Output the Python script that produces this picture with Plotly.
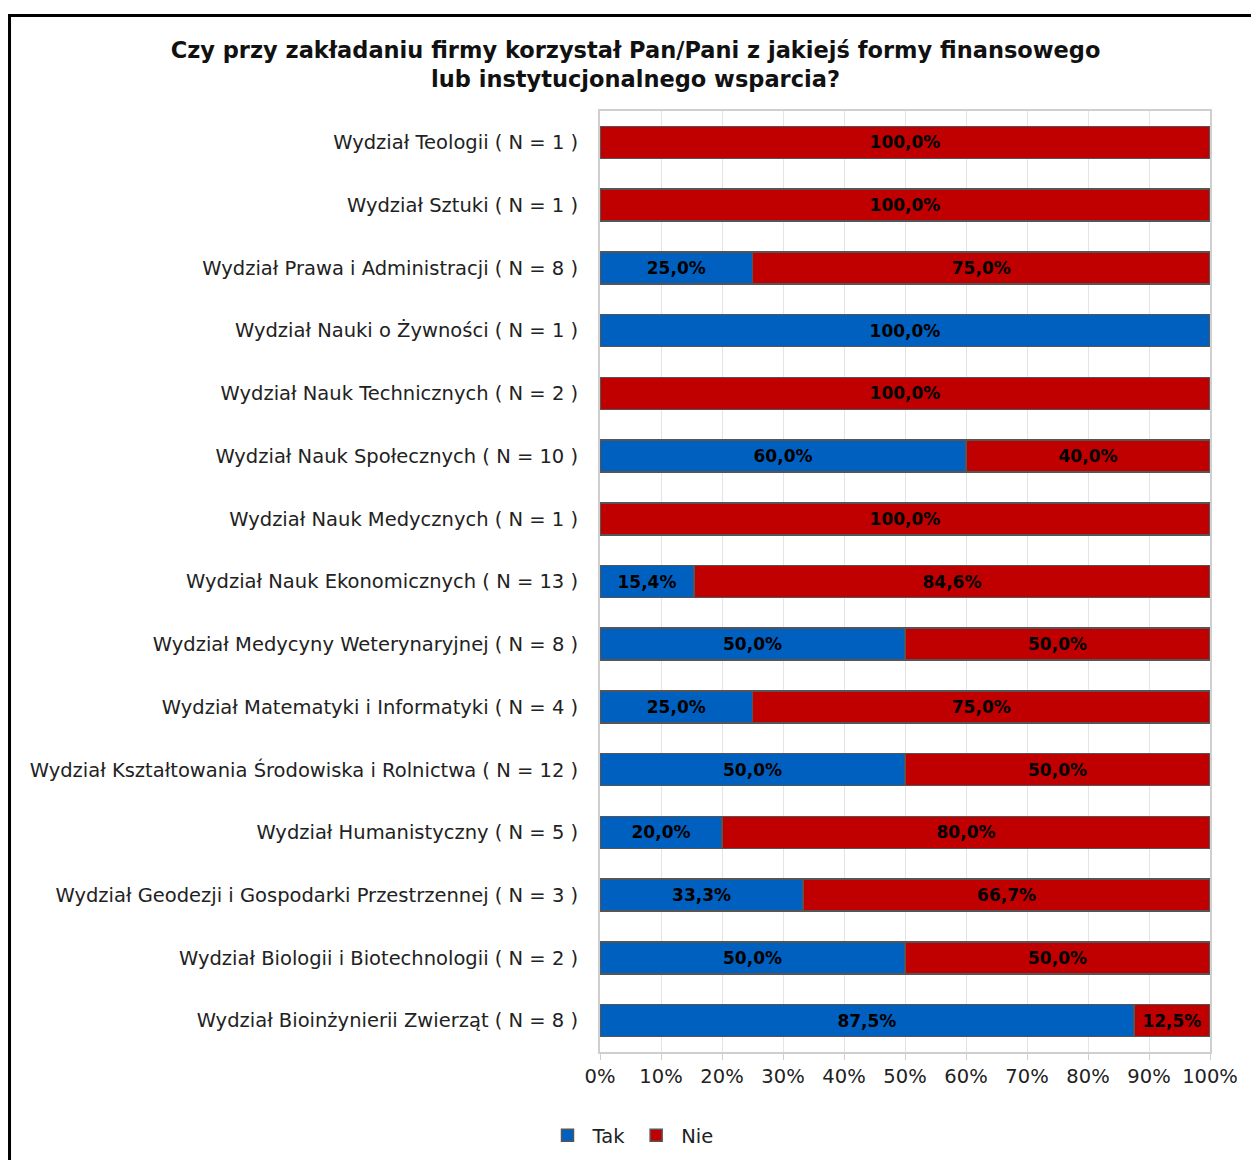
import plotly.graph_objects as go

TITLE = ("Czy przy zakładaniu firmy korzystał Pan/Pani z jakiejś formy finansowego"
         "<br>lub instytucjonalnego wsparcia?")

# top to bottom, as in the picture
faculties = [
    "Wydział Teologii ( N = 1 )",
    "Wydział Sztuki ( N = 1 )",
    "Wydział Prawa i Administracji ( N = 8 )",
    "Wydział Nauki o Żywności ( N = 1 )",
    "Wydział Nauk Technicznych ( N = 2 )",
    "Wydział Nauk Społecznych ( N = 10 )",
    "Wydział Nauk Medycznych ( N = 1 )",
    "Wydział Nauk Ekonomicznych ( N = 13 )",
    "Wydział Medycyny Weterynaryjnej ( N = 8 )",
    "Wydział Matematyki i Informatyki ( N = 4 )",
    "Wydział Kształtowania Środowiska i Rolnictwa ( N = 12 )",
    "Wydział Humanistyczny ( N = 5 )",
    "Wydział Geodezji i Gospodarki Przestrzennej ( N = 3 )",
    "Wydział Biologii i Biotechnologii ( N = 2 )",
    "Wydział Bioinżynierii Zwierząt ( N = 8 )",
]
tak = [0, 0, 25, 100, 0, 60, 0, 15.4, 50, 25, 50, 20, 33.3, 50, 87.5]
nie = [100, 100, 75, 0, 100, 40, 100, 84.6, 50, 75, 50, 80, 66.7, 50, 12.5]

tick_vals = [0, 10, 20, 30, 40, 50, 60, 70, 80, 90, 100]
tick_text = [f"{v}%" for v in tick_vals]

BLUE = "#0060c0"
RED = "#c00000"
OUTLINE = "#555555"
FONT = "DejaVu Sans"


def pct(v):
    return f"{v:.1f}".replace(".", ",") + "%" if v > 0 else ""


fig = go.Figure()
for name, values, color in [("Tak", tak, BLUE), ("Nie", nie, RED)]:
    fig.add_trace(go.Bar(
        y=faculties, x=values, name=name, orientation="h",
        marker={"color": color, "line": {"color": OUTLINE, "width": 1.5}},
        text=[pct(v) for v in values],
        textposition="inside", insidetextanchor="middle",
        textangle=0, constraintext="none",
        textfont={"family": FONT, "size": 17, "color": "#000000", "weight": "bold"},
        hovertemplate="%{y} · %{x:.1f} %<extra>" + name + "</extra>",
    ))

fig.update_layout(
    width=1251, height=1160,
    barmode="stack", bargap=0.49,
    paper_bgcolor="#ffffff", plot_bgcolor="#ffffff",
    margin={"l": 600, "r": 41, "t": 111, "b": 108},
    font={"family": FONT, "size": 19.5, "color": "#222222"},
    title={"text": TITLE, "x": 0.508, "xanchor": "center", "y": 0.95, "yanchor": "top",
           "font": {"family": FONT, "size": 22.5, "color": "#111111", "weight": "bold"}},
    legend={"orientation": "h", "x": 0.504, "xanchor": "center", "xref": "container",
            "y": 0.021, "yanchor": "middle", "yref": "container",
            "traceorder": "normal", "itemwidth": 40,
            "font": {"family": FONT, "size": 19.5}},
    shapes=[{"type": "rect", "xref": "paper", "yref": "paper",
             "x0": -0.968, "x1": 1.09, "y0": -0.2, "y1": 1.1015,
             "line": {"color": "#000000", "width": 3}, "layer": "above"}],
)
fig.update_xaxes(
    range=[0, 100], tickvals=tick_vals, ticktext=tick_text,
    showgrid=True, gridcolor="#e4e4e4", gridwidth=1,
    showline=True, linecolor="#cfcfcf", linewidth=2, mirror=True,
    ticks="outside", ticklen=6, tickcolor="#cfcfcf",
    zeroline=False, fixedrange=True,
)
fig.update_yaxes(
    categoryorder="array", categoryarray=faculties, autorange="reversed",
    showline=True, linecolor="#cfcfcf", linewidth=2, mirror=True,
    ticks="", ticklabelstandoff=16, fixedrange=True,
)

fig.write_html("out.html", config={"displayModeBar": False},
               post_script="document.body.style.margin = '0';")
